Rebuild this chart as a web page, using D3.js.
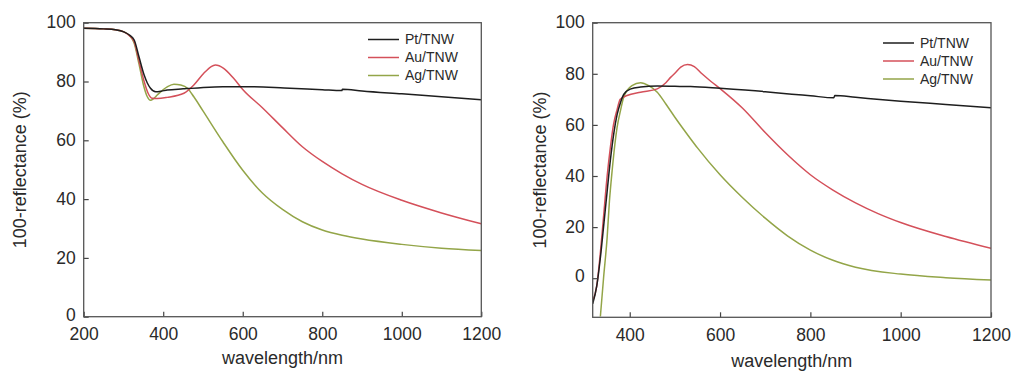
<!DOCTYPE html>
<html>
<head>
<meta charset="utf-8">
<script src="https://cdn.jsdelivr.net/npm/d3@7"></script>
<style>
  body { margin: 0; background: #fff; }
  svg { display: block; font-family: "Liberation Sans", Arial, sans-serif; }
</style>
</head>
<body>
<div id="chart"></div>
<script>
// data: [wavelength nm, 100-reflectance %]
var leftPt = [[200,98.1],[250,97.9],[280,97.6],[301,96.9],[315,95.8],[327,94.1],[339,88.4],[352,82.2],[360,79.5],[368,77.7],[381,76.5],[395,76.7],[410,77.1],[450,77.5],[494,77.9],[550,78.2],[620,78.2],[704,77.8],[800,77.2],[849,76.9],[851,77.4],[900,76.8],[1000,75.8],[1100,74.8],[1200,73.8]];
var leftAu = [[200,98.1],[250,97.9],[280,97.6],[301,96.9],[315,95.6],[327,93.5],[339,87],[352,80],[362,76],[372,74.3],[385,74.2],[410,74.6],[452,76],[477,78.8],[502,82.8],[520,85],[531,85.6],[552,84.5],[577,81.1],[600,77.3],[650,71],[700,64.3],[750,57.8],[800,52.8],[850,48.6],[900,45],[1000,39.6],[1100,35.3],[1200,31.6]];
var leftAg = [[200,98.1],[250,97.9],[280,97.6],[301,96.9],[315,95.6],[327,93],[339,86],[350,79],[360,74.8],[368,73.6],[376,74.2],[385,75.4],[410,78.2],[427,79.1],[444,78.8],[461,77.7],[477,74.8],[500,70],[550,59.5],[600,49.8],[650,42],[700,36.5],[750,32.3],[800,29.5],[850,27.7],[900,26.4],[1000,24.6],[1100,23.3],[1200,22.5]];

var rightPt = [[318,-10],[327,-3],[335,8],[342,20],[350,34],[357,46],[365,57],[372,64],[380,69],[387,72],[401,74],[424,74.8],[461,75.2],[500,75.1],[535,75],[600,74.3],[700,73],[759,72],[800,71.4],[852,70.6],[854,71.5],[900,70.8],[1000,69.3],[1100,68],[1200,66.7]];
var rightAu = [[318,-9],[327,-3],[335,10],[342,24],[350,40],[357,51],[364,60],[372,66],[379,70],[394,71.5],[424,72.8],[461,74.1],[480,76.5],[491,78.7],[500,80.2],[513,82.6],[528,83.6],[543,82.8],[560,80],[580,77],[600,74.2],[650,66.5],[700,57],[750,48.2],[800,40.5],[850,34.5],[900,29.5],[950,25.3],[1000,21.8],[1100,16.3],[1200,11.7]];
var rightAg = [[335,-15],[342,0],[350,16],[355,30],[361,42],[372,59],[380,66],[387,71],[405,75.4],[424,76.5],[442,75.4],[461,72.8],[480,68.2],[500,63],[535,54.5],[550,51],[600,40.5],[650,31.5],[700,23.5],[750,16.5],[800,11],[850,7],[900,4.3],[1000,1.6],[1100,0.2],[1200,-0.7]];

var seriesNames = ["Pt/TNW", "Au/TNW", "Ag/TNW"];
var seriesColors = ["#1e1e1e", "#d4505a", "#93a548"];
var yTicks = [0, 20, 40, 60, 80, 100];
var leftXTicks = [200, 400, 600, 800, 1000, 1200];
var rightXTicks = [400, 600, 800, 1000, 1200];

var width = 1014,
	height = 371;

var svg = d3.select("#chart").append("svg")
	.attr("width", width)
	.attr("height", height);

var panels = [
	{ id: "a", series: [leftPt, leftAu, leftAg], xDomain: [200, 1200], yDomain: [0, 100],
	  left: 83.7, right: 481.3, top: 22.7, bottom: 316.7, xTicks: leftXTicks,
	  yLabelX: 26, xLabelY: 364, legendX: 368, legendY: 39.5 },
	{ id: "b", series: [rightPt, rightAu, rightAg], xDomain: [318, 1200], yDomain: [-15.3, 100],
	  left: 592.7, right: 991, top: 22.7, bottom: 317.3, xTicks: rightXTicks,
	  yLabelX: 546, xLabelY: 367, legendX: 883, legendY: 43 }
];

panels.forEach(drawPanel);

function drawPanel(p){
	var x = d3.scaleLinear().domain(p.xDomain).range([p.left, p.right]);
	var y = d3.scaleLinear().domain(p.yDomain).range([p.bottom, p.top]);
	var g = svg.append("g");

	g.append("clipPath").attr("id", "clip-" + p.id)
		.append("rect")
		.attr("x", p.left).attr("y", p.top)
		.attr("width", p.right - p.left).attr("height", p.bottom - p.top);

	var line = d3.line()
		.x(d => x(d[0]))
		.y(d => y(d[1]))
		.curve(d3.curveMonotoneX);

	// draw Ag first, Pt last so black sits on top like the original
	var order = [2, 1, 0];
	g.append("g").attr("clip-path", "url(#clip-" + p.id + ")")
		.selectAll("path")
		.data(order)
		.enter()
		.append("path")
		.attr("d", i => line(p.series[i]))
		.attr("fill", "none")
		.attr("stroke", i => seriesColors[i])
		.attr("stroke-width", 1.5);

	// axes with inward ticks
	var xAxis = d3.axisBottom(x).tickValues(p.xTicks).tickFormat(d3.format("d"))
		.tickSizeInner(-5).tickSizeOuter(0).tickPadding(11);
	var yAxis = d3.axisLeft(y).tickValues(yTicks).tickFormat(d3.format("d"))
		.tickSizeInner(-5).tickSizeOuter(0).tickPadding(8);

	var gx = g.append("g").attr("transform", "translate(0," + p.bottom + ")").call(xAxis);
	var gy = g.append("g").attr("transform", "translate(" + p.left + ",0)").call(yAxis);

	[gx, gy].forEach(function(ax){
		ax.select(".domain").remove();
		ax.selectAll(".tick line").attr("stroke", "#444").attr("stroke-width", 1.2);
		ax.selectAll(".tick text")
			.attr("fill", "#2a2a2a")
			.attr("font-size", 17.5)
			.attr("font-family", "Liberation Sans, Arial, sans-serif");
	});
	// nudge the "0" a little up so it clears the first x label
	gy.selectAll(".tick text").attr("dy", d => d === 0 ? "0.2em" : "0.3em");

	// frame
	g.append("rect")
		.attr("x", p.left).attr("y", p.top)
		.attr("width", p.right - p.left).attr("height", p.bottom - p.top)
		.attr("fill", "none")
		.attr("stroke", "#555")
		.attr("stroke-width", 1.3);

	g.append("text")
		.attr("x", (p.left + p.right) / 2)
		.attr("y", p.xLabelY)
		.attr("text-anchor", "middle")
		.attr("font-size", 18)
		.attr("fill", "#2a2a2a")
		.text("wavelength/nm");

	g.append("text")
		.attr("transform", "translate(" + p.yLabelX + "," + ((p.top + p.bottom) / 2) + ") rotate(-90)")
		.attr("text-anchor", "middle")
		.attr("font-size", 18)
		.attr("fill", "#2a2a2a")
		.text("100-reflectance (%)");

	// legend
	var legend = g.append("g").attr("transform", "translate(" + p.legendX + "," + p.legendY + ")");
	var item = legend.selectAll("g")
		.data(seriesNames)
		.enter()
		.append("g")
		.attr("transform", (d, i) => "translate(0," + (i * 18) + ")");
	item.append("line")
		.attr("x1", 0).attr("x2", 31)
		.attr("stroke", (d, i) => seriesColors[i])
		.attr("stroke-width", 1.5);
	item.append("text")
		.attr("x", 37)
		.attr("dy", "0.35em")
		.attr("font-size", 14)
		.attr("fill", "#2a2a2a")
		.text(d => d);
}
</script>
</body>
</html>
